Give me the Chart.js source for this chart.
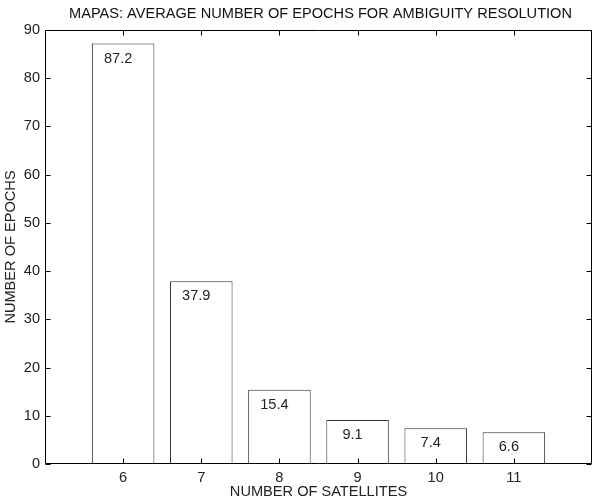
<!DOCTYPE html>
<html>
<head>
<meta charset="utf-8">
<script src="https://cdn.jsdelivr.net/npm/chart.js@4.4.0/dist/chart.umd.min.js"></script>
<style>
  html, body { margin: 0; padding: 0; overflow: hidden; background: #fff; }
</style>
</head>
<body>
<canvas id="chart" width="597" height="501"></canvas>
<script>
// data
const satellites = [6, 7, 8, 9, 10, 11];
const epochs = [87.2, 37.9, 15.4, 9.1, 7.4, 6.6];
const yTickValues = [0, 10, 20, 30, 40, 50, 60, 70, 80, 90];

const titleText = 'MAPAS: AVERAGE NUMBER OF EPOCHS FOR AMBIGUITY RESOLUTION';
const FONT = '"Liberation Sans", Arial, Helvetica, sans-serif';
const FS = 14.6;

// matlab-ish box with inward ticks, title and value labels
const matlabAxes = {
  id: 'matlabAxes',
  afterDatasetsDraw(chart) {
    const { ctx, chartArea: a, scales: { x, y } } = chart;
    ctx.save();
    ctx.strokeStyle = '#000';
    ctx.lineWidth = 1;
    ctx.beginPath();
    const L = Math.round(a.left) + 0.5, R = Math.round(a.right) - 0.5;
    const T = Math.round(a.top) + 0.5, B = Math.round(a.bottom) - 0.5;
    ctx.rect(L, T, R - L, B - T);
    yTickValues.forEach(v => {
      const py = Math.round(y.getPixelForValue(v)) + 0.5;
      ctx.moveTo(L, py); ctx.lineTo(L + 5, py);
      ctx.moveTo(R, py); ctx.lineTo(R - 5, py);
    });
    satellites.forEach(s => {
      const px = Math.round(x.getPixelForValue(s)) + 0.5;
      ctx.moveTo(px, B); ctx.lineTo(px, B - 5);
      ctx.moveTo(px, T); ctx.lineTo(px, T + 5);
    });
    ctx.stroke();

    // value labels inside the bars
    ctx.fillStyle = '#222';
    ctx.font = FS + 'px ' + FONT;
    ctx.textAlign = 'center';
    ctx.textBaseline = 'middle';
    chart.getDatasetMeta(0).data.forEach((bar, i) => {
      ctx.fillText(String(epochs[i]), bar.x - 5, bar.y + 15);
    });

    // title
    ctx.fillStyle = '#111';
    ctx.fillText(titleText, (a.left + a.right) / 2 + 2, 14);
    ctx.restore();
  }
};

new Chart(document.getElementById('chart'), {
  type: 'bar',
  data: {
    datasets: [{
      data: satellites.map((s, i) => ({ x: s, y: epochs[i] })),
      backgroundColor: '#fff',
      borderColor: '#333',
      borderWidth: 1,
      borderSkipped: false,
      barPercentage: 0.8,
      categoryPercentage: 1
    }]
  },
  options: {
    responsive: false,
    animation: false,
    layout: { padding: { top: 30, right: 4, left: 0, bottom: 0 } },
    plugins: {
      legend: { display: false },
      tooltip: { enabled: false },
      title: { display: false }
    },
    scales: {
      x: {
        type: 'linear',
        min: 5,
        max: 12,
        offset: false,
        grid: { display: false, drawTicks: false },
        border: { display: false },
        ticks: {
          stepSize: 1,
          padding: 5,
          color: '#222',
          font: { family: FONT, size: FS },
          maxRotation: 0,
          callback: v => (v >= 6 && v <= 11 ? String(v) : '')
        },
        title: {
          display: true,
          text: 'NUMBER OF SATELLITES',
          color: '#222',
          font: { family: FONT, size: FS },
          padding: { top: 0, bottom: 0 }
        },
        afterFit(scale) { scale.height = 37; }
      },
      y: {
        min: 0,
        max: 90,
        grid: { display: false, drawTicks: false },
        border: { display: false },
        ticks: {
          stepSize: 10,
          padding: 5,
          color: '#222',
          font: { family: FONT, size: FS }
        },
        title: {
          display: true,
          text: 'NUMBER OF EPOCHS',
          color: '#222',
          font: { family: FONT, size: FS },
          padding: { top: 2, bottom: 0 }
        },
        afterFit(scale) { scale.width = 45; }
      }
    }
  },
  plugins: [matlabAxes]
});
</script>
</body>
</html>
